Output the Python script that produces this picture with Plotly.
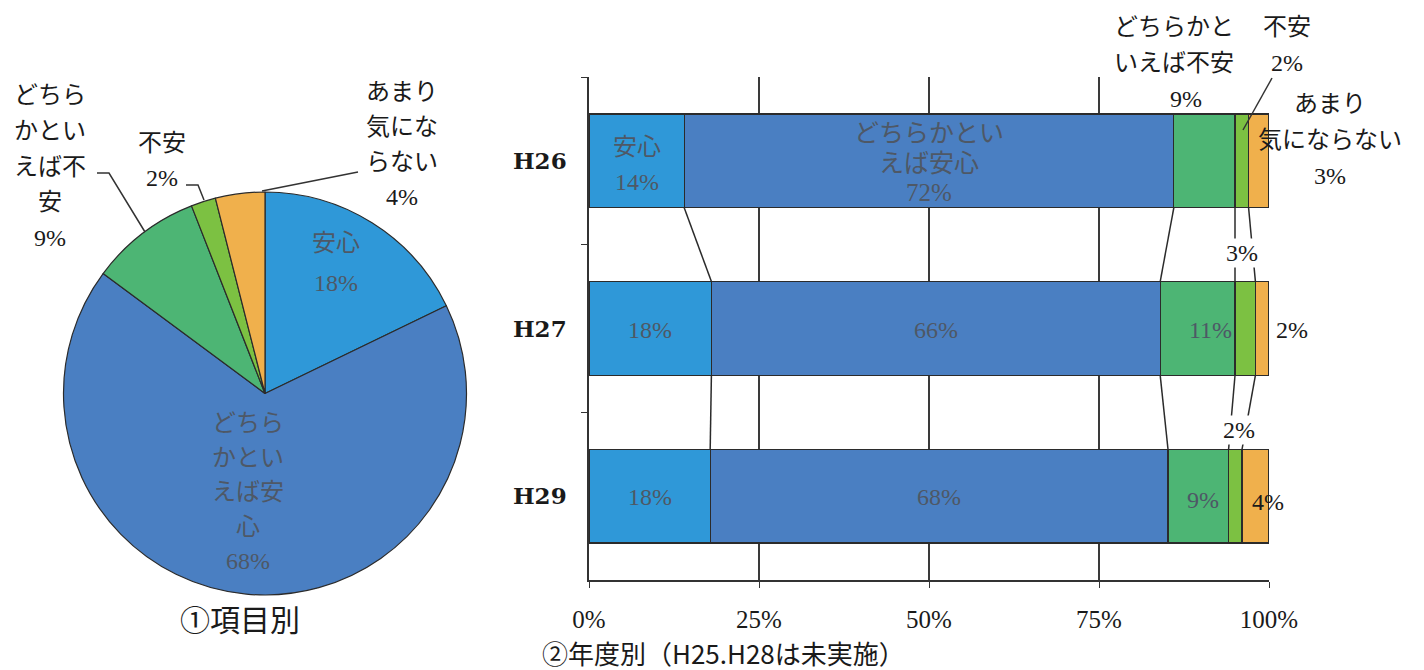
import plotly.graph_objects as go

W, H = 1424, 670

# ① 項目別 (pie)
pie_labels = ["安心", "どちらかといえば安心", "どちらかといえば不安", "不安", "あまり気にならない"]
pie_values = [18, 68, 9, 2, 4]

# ② 年度別 (stacked bars)
years = ["H26", "H27", "H29"]
anshin = [14, 18, 18]
dochira_anshin = [72, 66, 68]
dochira_fuan = [9, 11, 9]
fuan = [2, 3, 2]
amari = [3, 2, 4]
x_ticks = [0, 25, 50, 75, 100]
x_tick_labels = ["0%", "25%", "50%", "75%", "100%"]

series = [anshin, dochira_anshin, dochira_fuan, fuan, amari]
colors = ["#2f98d8", "#4a7fc2", "#4db574", "#7cc142", "#f0b04c"]
EDGE = "#2b2b2b"
TXT = "#1a1a1a"
DIM = "#4e5866"
FONT = "Liberation Serif, 'Noto Sans CJK JP', serif"
JP = "'Noto Sans CJK JP', sans-serif"


def px(x):
    return x / W


def py(y):
    return 1 - y / H


fig = go.Figure()

# pie, starting at 12 o'clock and running clockwise
fig.add_trace(go.Pie(
    labels=pie_labels, values=pie_values, sort=False, direction="clockwise",
    rotation=0, textinfo="none", hoverinfo="label+percent", automargin=False,
    marker=dict(colors=colors, line=dict(color=EDGE, width=1.2)),
    domain=dict(x=[px(63), px(467)], y=[py(595), py(192)]),
))

# stacked horizontal bars
for name, vals, col in zip(pie_labels, series, colors):
    fig.add_trace(go.Bar(
        y=years, x=vals, name=name, orientation="h",
        marker=dict(color=col, line=dict(color=EDGE, width=1.3)),
        xaxis="x", yaxis="y",
    ))

# cumulative boundaries per year (normalised to 100%)
totals = [sum(s[i] for s in series) for i in range(len(years))]
cum = []
for i in range(len(years)):
    acc, row = 0, [0]
    for s in series:
        acc += s[i]
        row.append(acc / totals[i] * 100)
    cum.append(row)

HALF = 0.28
shapes = []
# series lines between neighbouring bars
for a, b in [(0, 1), (1, 2)]:
    for k in range(1, 5):
        shapes.append(dict(type="line", xref="x", yref="y",
                           x0=cum[a][k], y0=a + HALF, x1=cum[b][k], y1=b - HALF,
                           line=dict(color=EDGE, width=1.5), layer="above"))

# leader lines
def leader(points, width=1.5):
    path = "M " + " L ".join(f"{px(x)},{py(y)}" for x, y in points)
    shapes.append(dict(type="path", xref="paper", yref="paper", path=path,
                       line=dict(color="#333", width=width)))

leader([(97, 173), (109, 173), (145, 232)])
leader([(186, 185), (198, 185), (204, 200)])
leader([(358, 172), (262, 191)])
leader([(1272, 78), (1243, 130)])

annotations = []


def text(t, x, y, size=24, color=TXT, xref="paper", family=FONT, bg=None, anchor="center"):
    a = dict(text=t, x=x if xref != "paper" else px(x), y=py(y), xref=xref, yref="paper",
             showarrow=False, xanchor=anchor, yanchor="middle",
             font=dict(family=family, size=size, color=color))
    if bg:
        a.update(bgcolor=bg, borderpad=1)
    annotations.append(a)


def block(lines, x, y0, step, **kw):
    for i, t in enumerate(lines):
        text(t, x, y0 + i * step, **kw)


# pie labels
block(["安心", f"{pie_values[0]}%"], 336, 243, 40, color=DIM)
block(["どちら", "かとい", "えば安", "心", f"{pie_values[1]}%"], 248, 423, 34.5, color=DIM)
block(["どちら", "かとい", "えば不", "安", f"{pie_values[2]}%"], 50, 95, 35.8)
block(["不安", f"{pie_values[3]}%"], 162, 143, 35)
block(["あまり", "気にな", "らない", f"{pie_values[4]}%"], 402, 92, 35)
text("①項目別", 240, 618, size=30, family=JP)

# bar labels inside segments
mid = lambda i, k: (cum[i][k] + cum[i][k + 1]) / 2
block(["安心", f"{anshin[0]}%"], mid(0, 0), 147, 35, xref="x", color=DIM)
block(["どちらかとい", "えば安心", f"{dochira_anshin[0]}%"], mid(0, 1), 133, 30, xref="x",
      color=DIM, size=25)
for i, yy in [(1, 330), (2, 497)]:
    text(f"{anshin[i]}%", mid(i, 0), yy, xref="x", color=DIM)
    text(f"{dochira_anshin[i]}%", mid(i, 1), yy, xref="x", color=DIM)
text(f"{dochira_fuan[1]}%", 1210, 330, color=DIM)
text(f"{dochira_fuan[2]}%", 1203, 500, color=DIM)

# bar labels outside
block(["どちらかと", "いえば不安"], 1174, 27, 36)
text(f"{dochira_fuan[0]}%", 1186, 99)
block(["不安", f"{fuan[0]}%"], 1287, 27, 36)
block(["あまり", "気にならない", f"{amari[0]}%"], 1330, 104, 36)
text(f"{fuan[1]}%", 1242, 253, bg="white")
text(f"{amari[1]}%", 1292, 330)
text(f"{fuan[2]}%", 1239, 430, bg="white")
text(f"{amari[2]}%", 1268, 502)
text("②年度別（H25.H28は未実施）", 540, 652, size=26, family=JP, anchor="left")

fig.update_layout(
    width=W, height=H, autosize=False, margin=dict(l=0, r=0, t=0, b=0, pad=0, autoexpand=False),
    paper_bgcolor="white", plot_bgcolor="white",
    barmode="stack", barnorm="percent", bargap=0.44, showlegend=False,
    xaxis=dict(domain=[px(589), px(1269)], range=[0, 100], tickvals=x_ticks, automargin=False,
               ticktext=x_tick_labels, showgrid=True, gridcolor="#3a3a3a", gridwidth=1.5,
               zeroline=False, showline=True, linecolor="#333", linewidth=1.5,
               ticks="outside", ticklen=6, tickcolor="#333", ticklabelstandoff=10,
               tickfont=dict(family="Liberation Serif", size=25, color=TXT)),
    yaxis=dict(domain=[py(580), py(77)], categoryorder="array", categoryarray=years,
               automargin=False, range=[2.5, -0.5], showgrid=False, zeroline=False,
               showline=True, linecolor="#333", linewidth=1.5, ticks="outside", ticklen=6,
               tickson="boundaries", tickcolor="#333", ticklabelstandoff=16,
               tickfont=dict(family="DejaVu Serif", size=23, color=TXT, weight="bold")),
    shapes=shapes, annotations=annotations,
)

fig.write_html("out.html")
